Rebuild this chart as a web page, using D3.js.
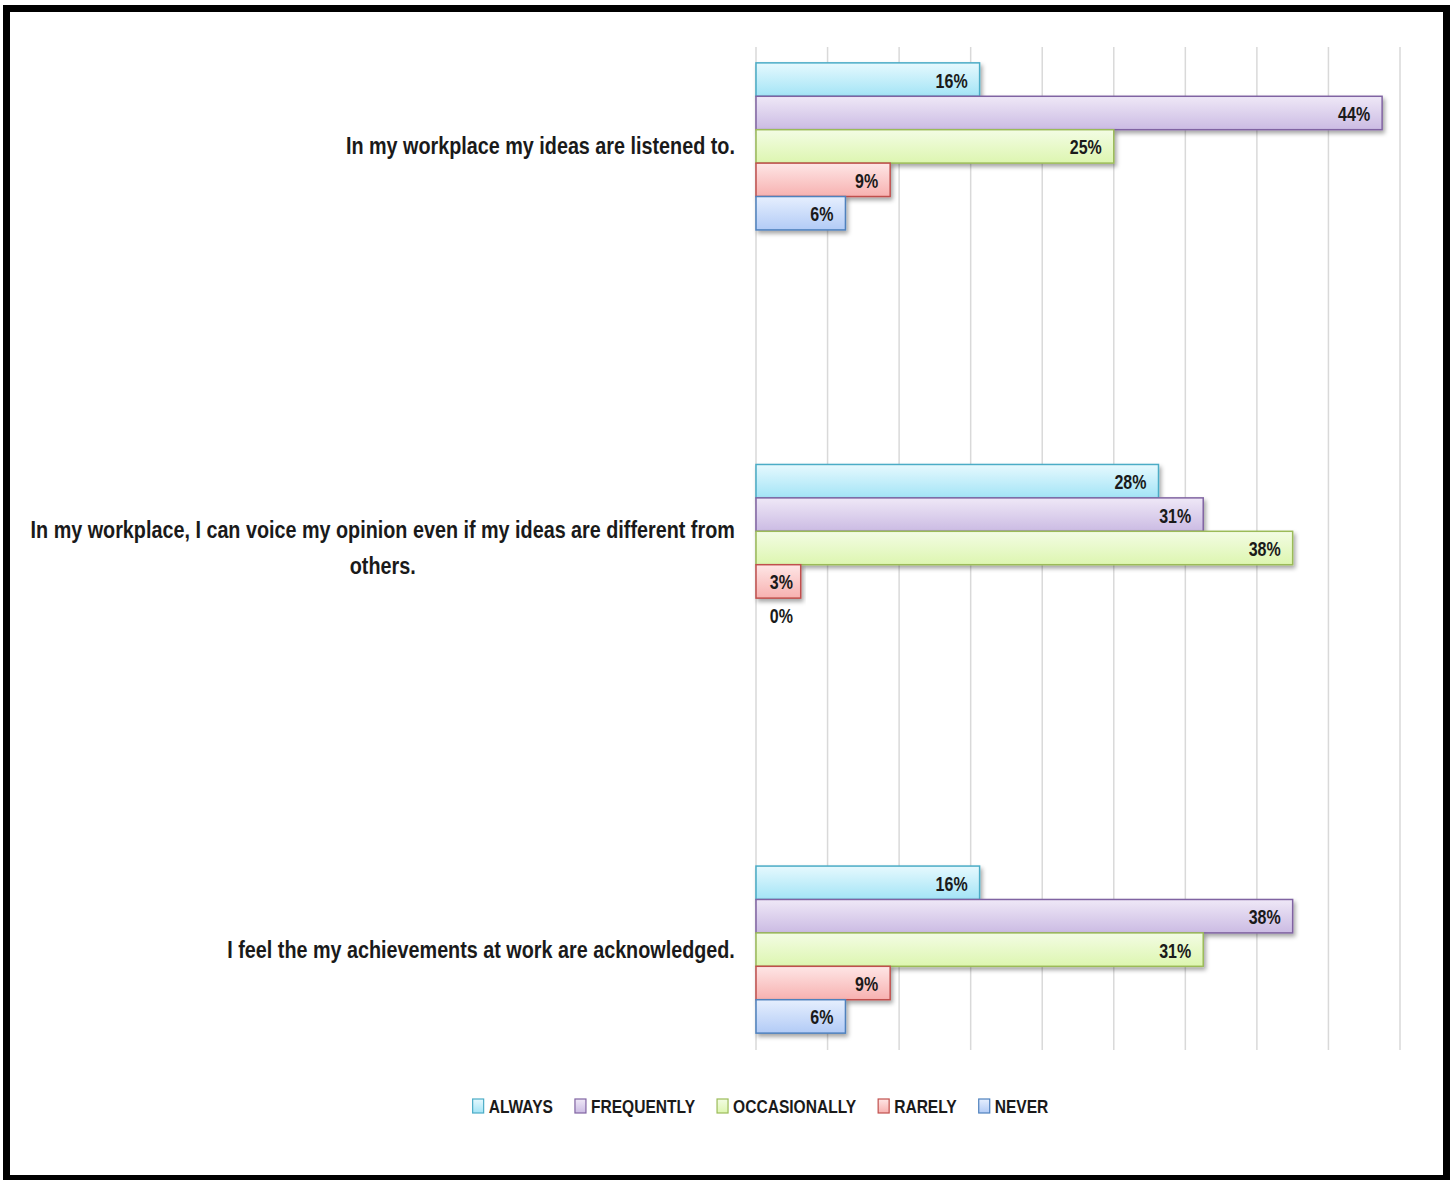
<!DOCTYPE html>
<html><head><meta charset="utf-8">
<script src="https://cdn.jsdelivr.net/npm/d3@7"></script>
<style>
html,body{margin:0;padding:0;background:#fff;}
svg{display:block;}
text{font-family:"Liberation Sans",Arial,sans-serif;font-weight:bold;fill:#1a1a1a;}
</style></head>
<body>
<svg id="chart" width="1453" height="1180"></svg>
<script>
const categories = [
  "In my workplace my ideas are listened to.",
  "In my workplace, I can voice my opinion even if my ideas are different from others.",
  "I feel the my achievements at work are acknowledged."
];
const seriesNames = ["ALWAYS", "FREQUENTLY", "OCCASIONALLY", "RARELY", "NEVER"];
const always       = [0.15625, 0.28125, 0.15625];
const frequently   = [0.4375,  0.3125,  0.375];
const occasionally = [0.25,    0.375,   0.3125];
const rarely       = [0.09375, 0.03125, 0.09375];
const never        = [0.0625,  0.0,     0.0625];
const xTicks = [0, 0.05, 0.10, 0.15, 0.20, 0.25, 0.30, 0.35, 0.40, 0.45];

const seriesValues = [always, frequently, occasionally, rarely, never];
const colors = [
  {top:"#e6f9fe", bot:"#a3e4f6", stroke:"#4bacc6"},
  {top:"#efe8f7", bot:"#cbbbe3", stroke:"#8064a2"},
  {top:"#f3fce4", bot:"#ddf6b0", stroke:"#9bbb59"},
  {top:"#fee6e6", bot:"#f7b1b0", stroke:"#c0504d"},
  {top:"#e6effe", bot:"#b2cbf6", stroke:"#4f81bd"}
];

const svg = d3.select("#chart");
const defs = svg.append("defs");
colors.forEach((c,i)=>{
  const g = defs.append("linearGradient").attr("id","g"+i).attr("x1",0).attr("y1",0).attr("x2",0).attr("y2",1);
  g.append("stop").attr("offset","0%").attr("stop-color",c.top);
  g.append("stop").attr("offset","100%").attr("stop-color",c.bot);
});
const f = defs.append("filter").attr("id","sh").attr("x","-5%").attr("y","-20%").attr("width","115%").attr("height","160%");
f.append("feDropShadow").attr("dx",2).attr("dy",3).attr("stdDeviation",2).attr("flood-color","#000").attr("flood-opacity",0.35);

// frame
svg.append("rect").attr("x",6.5).attr("y",8.5).attr("width",1440).attr("height",1170)
  .attr("fill","none").attr("stroke","#000").attr("stroke-width",7);

// horizontal compression to mimic the narrow original typeface
function ctext(parent, x, y, str, size, anchor, sx){
  const g = parent.append("g").attr("transform",`translate(${x},${y}) scale(${sx},1)`);
  const t = g.append("text").attr("text-anchor",anchor||"start").attr("dy","0.35em")
    .style("font-size",size+"px").text(str);
  return {g, t, width: t.node().getComputedTextLength()*sx};
}

const x = d3.scaleLinear().domain([0, 0.45]).range([756, 1400]);
const y = d3.scaleBand().domain(categories).range([46, 1050]).paddingInner(0.584).paddingOuter(0.042);
const yInner = d3.scaleBand().domain(seriesNames).range([0, y.bandwidth()]);

// gridlines
svg.append("g").selectAll("line").data(xTicks).join("line")
  .attr("x1",d=>x(d)).attr("x2",d=>x(d)).attr("y1",47).attr("y2",1050)
  .attr("stroke","#d9d9d9").attr("stroke-width",1.5);

const fmt = d3.format(".0%");
const data = [];
categories.forEach((c,ci)=>seriesNames.forEach((s,si)=>data.push({c, s, si, v: seriesValues[si][ci]})));

const bars = svg.append("g");
bars.selectAll("rect").data(data.filter(d=>d.v>0)).join("rect")
  .attr("x", x(0)).attr("y", d=>y(d.c)+yInner(d.s))
  .attr("width", d=>x(d.v)-x(0)).attr("height", yInner.bandwidth())
  .attr("fill", d=>`url(#g${d.si})`).attr("stroke", d=>colors[d.si].stroke).attr("stroke-width",1.5)
  .attr("filter","url(#sh)");

const lab = svg.append("g");
data.forEach(d=>{
  ctext(lab, Math.max(x(d.v)-12, x(0)+37), y(d.c)+yInner(d.s)+yInner.bandwidth()/2 + 1, fmt(d.v), 20, "end", 0.8);
});

// category labels with wrapping
const catG = svg.append("g");
const CSX = 0.86;
const rightEdge = 735, maxW = 725, lineH = 36, catSize = 23;
const probe = catG.append("text").style("font-size",catSize+"px");
const measure = s => { probe.text(s); return probe.node().getComputedTextLength()*CSX; };
categories.forEach(c=>{
  const words = c.split(" ");
  const lines = [];
  let cur = [];
  words.forEach(w=>{
    const test = cur.concat([w]).join(" ");
    if (measure(test) > maxW && cur.length) { lines.push(cur.join(" ")); cur=[w]; }
    else cur.push(w);
  });
  lines.push(cur.join(" "));
  const widest = d3.max(lines, measure);
  const cx = rightEdge - widest/2;
  const cy = y(c)+y.bandwidth()/2;
  lines.forEach((l,i)=>ctext(catG, cx, cy + (i-(lines.length-1)/2)*lineH, l, catSize, "middle", CSX));
});
probe.remove();

// legend
const leg = svg.append("g");
let lx = 0;
seriesNames.forEach((s,i)=>{
  const g = leg.append("g").attr("transform",`translate(${lx},1106)`);
  g.append("rect").attr("x",0).attr("y",-7).attr("width",11).attr("height",14)
    .attr("fill",`url(#g${i})`).attr("stroke",colors[i].stroke).attr("stroke-width",1.2);
  const r = ctext(g, 16, 0, s, 19, "start", 0.82);
  lx += 16 + r.width + 22;
});
const totalW = lx - 22;
leg.attr("transform",`translate(${760.5 - totalW/2},0)`);
</script>
</body></html>
